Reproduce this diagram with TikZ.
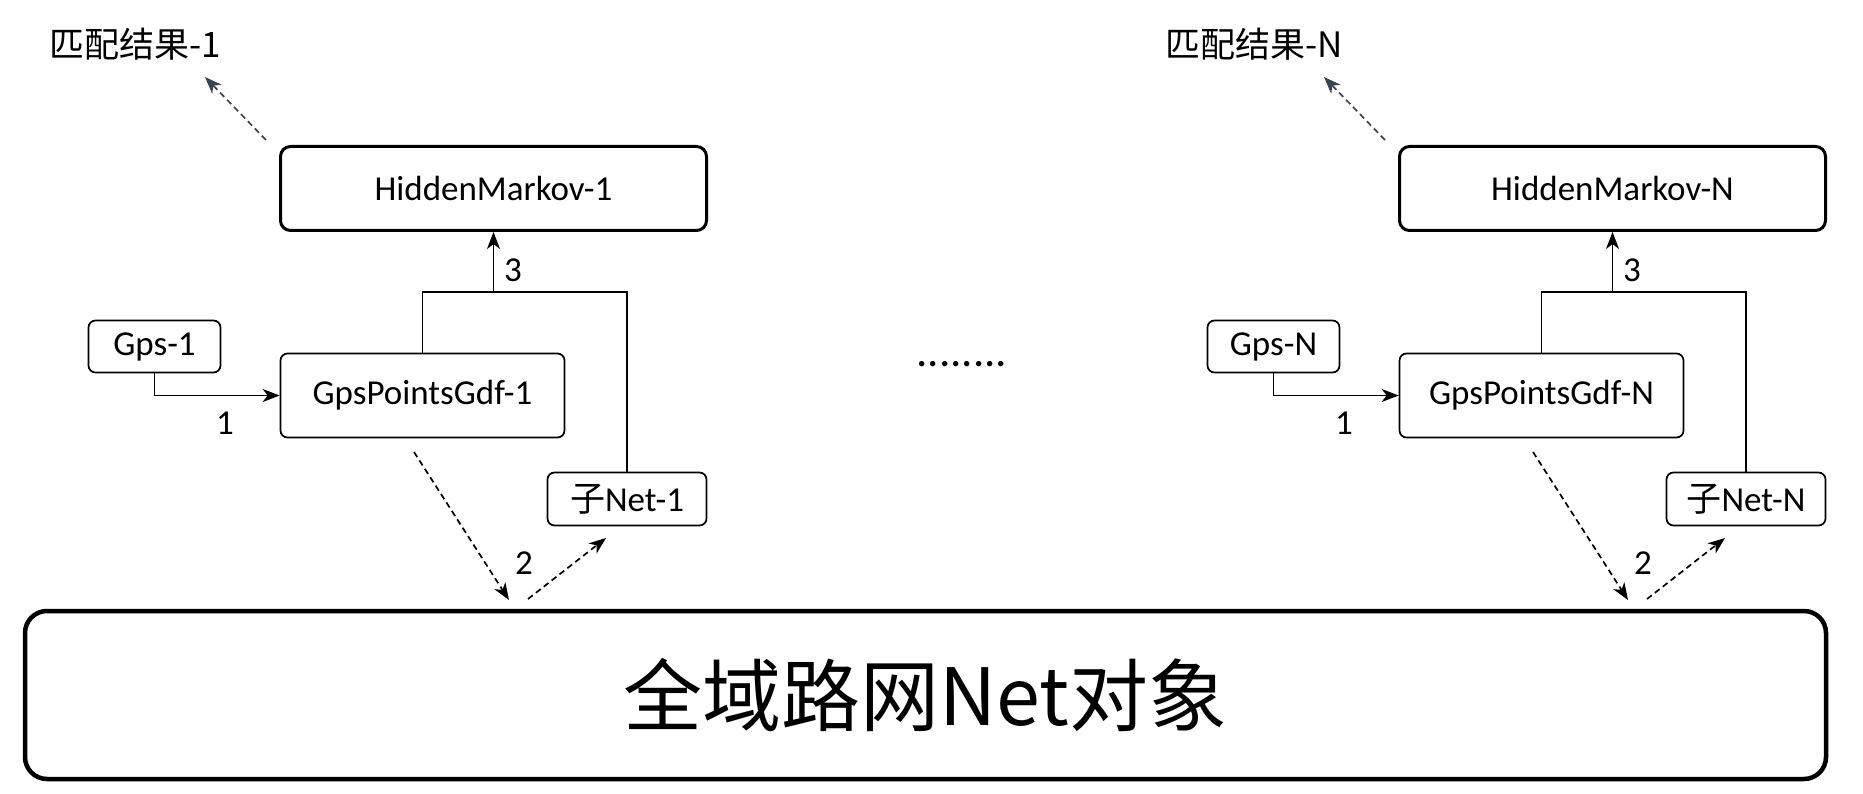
\documentclass[tikz,border=0pt]{standalone}
\usepackage{fontspec}
\setmainfont{Carlito}
\newfontfamily\cjk{Noto Sans CJK SC}
\usetikzlibrary{arrows.meta}
\definecolor{slate}{HTML}{3B4252}
\newcommand{\fsmid}{\fontsize{35}{42}\selectfont}
\tikzset{
  smallbox/.style={draw, rounded corners=7pt, line width=1.7pt, inner sep=0pt, font=\fsmid},
  hmbox/.style={draw, rounded corners=10pt, line width=3pt, inner sep=0pt, font=\fsmid, minimum width=426pt, minimum height=84pt},
  bigbox/.style={draw, rounded corners=22pt, line width=4.5pt, inner sep=0pt, minimum width=1801pt, minimum height=168pt},
  lbl/.style={inner sep=0pt, font=\fsmid},
  tip/.style={-{Stealth[length=17pt,width=13pt,inset=5pt]}},
  solidarrow/.style={tip, line width=1.7pt},
  plainline/.style={line width=1.7pt},
  dasharrow/.style={tip, line width=1.7pt, dash pattern=on 6pt off 4pt},
  slatearrow/.style={dasharrow, draw=slate, color=slate}
}
\begin{document}
\begin{tikzpicture}[x=1pt,y=-1pt]
\useasboundingbox (0,0) rectangle (1863,794);
% big box
\node[bigbox] (big) at (925.5,695) {\cjk\fontsize{79}{90}\selectfont 全域路网Net对象};
% dots
\node[inner sep=0pt, font=\fontsize{45}{50}\selectfont] (dots) at (962,364) {........};
\foreach \s/\dx in {1/0,N/1119}{
  \begin{scope}[xshift=\dx pt]
  \node[lbl] (res\s) at (135.5,44) {\cjk 匹配结果-\s};
  \node[hmbox] (hm\s) at (493.5,188.5) {HiddenMarkov-\s};
  \node[smallbox, minimum width=132pt, minimum height=52pt] (gps\s) at (154.5,346.5) {Gps-\s};
  \node[smallbox, minimum width=284pt, minimum height=84pt] (gdf\s) at (422.5,395.5) {GpsPointsGdf-\s};
  \node[smallbox, minimum width=159pt, minimum height=53pt] (net\s) at (627,499) {{\cjk 子}Net-\s};
  \coordinate (rt\s) at (266,140);
  \coordinate (rh\s) at (205,77);
  \coordinate (j\s) at (493.5,292);
  \coordinate (a\s) at (414,452);
  \coordinate (b\s) at (509,600);
  \coordinate (c\s) at (528,599);
  \coordinate (d\s) at (606,538);
  \node[lbl] (one\s) at (225,423) {1};
  \node[lbl] (two\s) at (524,563) {2};
  \node[lbl] (three\s) at (513,270) {3};
  \end{scope}
  \draw[slatearrow] (rt\s) -- (rh\s);
  \draw[solidarrow] (gps\s.south) |- (gdf\s.west);
  \draw[plainline] (gdf\s.north) |- (j\s) -| (net\s.north);
  \draw[solidarrow] (j\s) -- (hm\s.south);
  \draw[dasharrow] (a\s) -- (b\s);
  \draw[dasharrow] (c\s) -- (d\s);
}
\end{tikzpicture}
\end{document}
